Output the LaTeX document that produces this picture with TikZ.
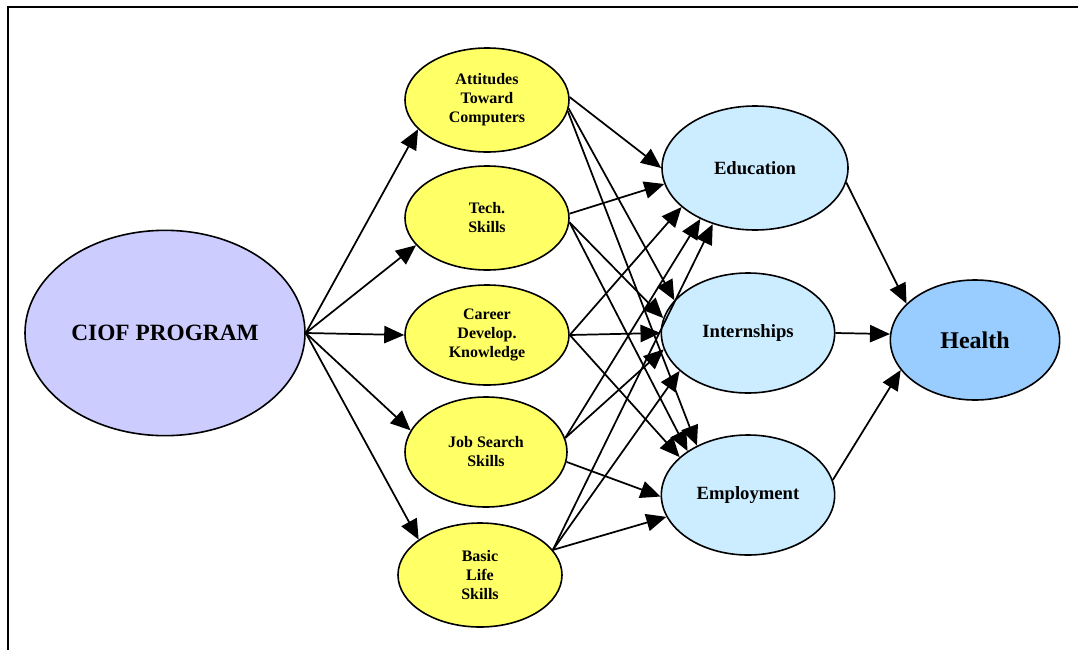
\documentclass[tikz,border=0pt]{standalone}
\usepackage{fontspec}
\setmainfont{Liberation Serif}
\usetikzlibrary{positioning,shapes.geometric,arrows.meta}
\definecolor{lemon}{HTML}{FFFF66}
\definecolor{lilac}{HTML}{CCCCFF}
\definecolor{sky}  {HTML}{CCECFF}
\definecolor{sea}  {HTML}{99CCFF}
\tikzset{
  >={Triangle[length=15pt,width=13pt]},
  % --- nodes
  oval/.style  = {ellipse, draw=black, line width=1.2pt, align=center, inner sep=0pt},
  prog/.style  = {oval, fill=lilac, minimum width=210pt, minimum height=154pt,
                  font=\bfseries\fontsize{17.5}{21}\selectfont},
  skill/.style = {oval, fill=lemon, minimum width=123pt, minimum height=78pt,
                  font=\bfseries\fontsize{12}{14.25}\selectfont},
  outc/.style  = {oval, fill=sky, minimum width=130pt, minimum height=90pt,
                  font=\bfseries\fontsize{14}{17}\selectfont},
  goal/.style  = {oval, fill=sea, minimum width=127pt, minimum height=90pt,
                  font=\bfseries\fontsize{18}{21}\selectfont},
  % --- edges
  e/.style     = {->, line width=1.3pt, draw=black},
}
\begin{document}
\begin{tikzpicture}[x=0.75pt,y=-0.75pt]
  \useasboundingbox (0,0) rectangle (1078,650);
  \draw[line width=2.2pt] (8,650) -- (8,7) -- (1078,7);

  \node[prog] (prog) at (165,333) {CIOF PROGRAM};
  \node[skill] (att)  at (487,100) {Attitudes\\Toward\\Computers};
  \node[skill] (tech) at (487,218) {Tech.\\Skills};
  \node[skill, minimum height=75pt] (car) at (487,335) {Career\\Develop.\\Knowledge};
  \node[skill, minimum width=121.5pt, minimum height=82.5pt] (job) at (486,452) {Job Search\\Skills};
  \node[skill] (life) at (480,575) {Basic\\Life\\Skills};
  \node[outc, minimum width=139.5pt, minimum height=93pt] (edu) at (755,168) {Education};
  \node[outc] (intern) at (748,333) {Internships};
  \node[outc] (emp)    at (748,495) {Employment};
  \node[goal] (health) at (975,340) {Health};

  \draw[e] (prog.east) -- (att.203); \draw[e] (prog.east) -- (tech.201);
  \draw[e] (prog.east) -- (car.west); \draw[e] (prog.east) -- (job.164);
  \draw[e] (prog.east) -- (life.150);

  \draw[e] (att.2) -- (edu.180); \draw[e] (att.-6) -- (intern.156); \draw[e] (att.-8) -- (emp.136);
  \draw[e] (tech.3) -- (edu.190); \draw[e] (tech.-3) -- (intern.170); \draw[e] (tech.-3) -- (emp.144);
  \draw[e] (car.east) -- (edu.208); \draw[e] (car.east) -- (intern.west); \draw[e] (car.east) -- (emp.151);
  \draw[e] (job.10) -- (edu.223); \draw[e] (job.10) -- (intern.191); \draw[e] (job.-7) -- (emp.181);
  \draw[e] (life.19) -- (edu.233); \draw[e] (life.19) -- (intern.209); \draw[e] (life.19) -- (emp.195);

  \draw[e] (edu.-9) -- (health.152);
  \draw[e] (intern.east) -- (health.176);
  \draw[e] (emp.10) -- (health.202);
\end{tikzpicture}
\end{document}
